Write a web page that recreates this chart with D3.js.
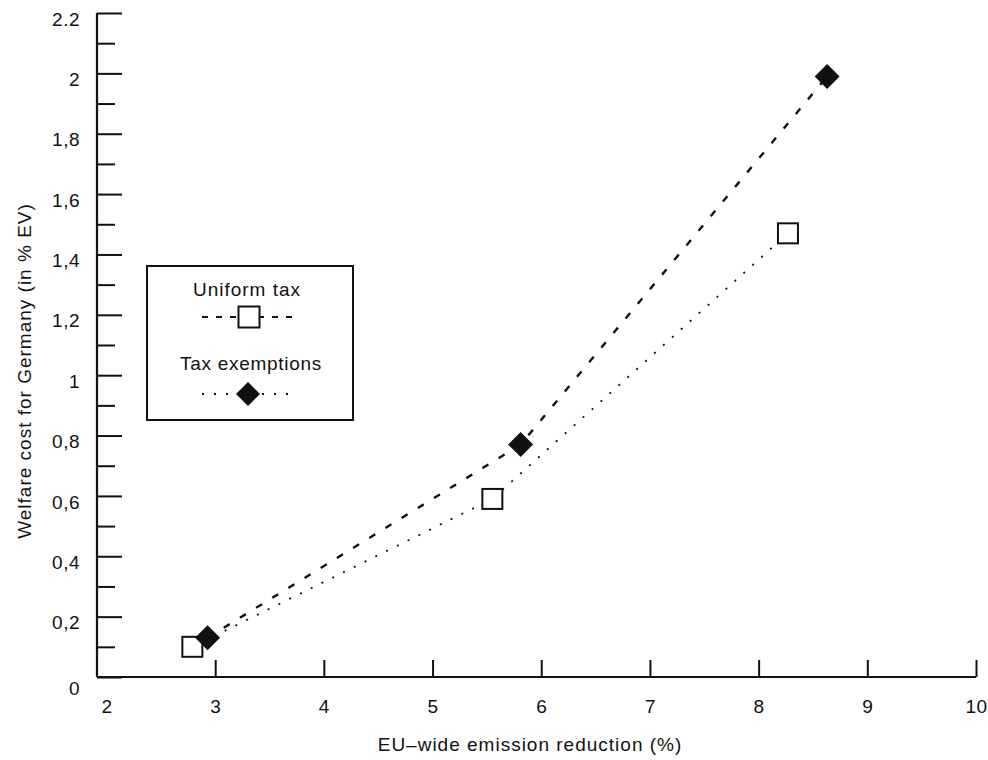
<!DOCTYPE html>
<html>
<head>
<meta charset="utf-8">
<script src="https://cdn.jsdelivr.net/npm/d3@7"></script>
<style>
  html, body { margin: 0; padding: 0; background: #fff; }
  svg { display: block; }
  text { font-family: "Liberation Sans", Arial, Helvetica, sans-serif; fill: #111; }
</style>
</head>
<body>
<svg id="chart" width="988" height="760"></svg>
<script>
// ---- data ----
const seriesNames = ["Uniform tax", "Tax exemptions"];
const uniformX = [2.79, 5.55, 8.27];
const uniformY = [0.10, 0.59, 1.47];
const exemptX = [2.93, 5.81, 8.63];
const exemptY = [0.13, 0.77, 1.99];
const xTickValues = [2, 3, 4, 5, 6, 7, 8, 9, 10];
const yMajorValues = [0, 0.2, 0.4, 0.6, 0.8, 1, 1.2, 1.4, 1.6, 1.8, 2, 2.2];
const yMajorLabels = ["0", "0,2", "0,4", "0,6", "0,8", "1", "1,2", "1,4", "1,6", "1,8", "2", "2.2"];
const yMinorValues = [0.1, 0.3, 0.5, 0.7, 0.9, 1.1, 1.3, 1.5, 1.7, 1.9, 2.1];
const xTitle = "EU\u2013wide emission reduction (%)";
const yTitle = "Welfare cost for Germany (in % EV)";

// ---- layout ----
const svg = d3.select("#chart");
const axisX0 = 97;          // position of the vertical axis line
const x = d3.scaleLinear().domain([2, 10]).range([106.5, 976]);
const y = d3.scaleLinear().domain([0, 2.2]).range([677, 13]);
const ink = "#111";

// X axis
const xAxis = d3.axisBottom(x)
  .tickValues(xTickValues)
  .tickSize(-17)
  .tickPadding(23)
  .tickFormat(d => String(d));
const gx = svg.append("g").attr("transform", `translate(0,${y(0)})`).call(xAxis);
gx.select(".domain").remove();
gx.selectAll(".tick line").attr("stroke", ink).attr("stroke-width", 2)
  .filter(d => d === 2).remove();
gx.selectAll(".tick text").attr("font-size", 19).attr("letter-spacing", 0.5).attr("fill", ink);

// Y axis (major)
const yAxis = d3.axisLeft(y)
  .tickValues(yMajorValues)
  .tickSize(-25)
  .tickPadding(17)
  .tickFormat((d, i) => yMajorLabels[i]);
const gy = svg.append("g").attr("transform", `translate(${axisX0},0)`).call(yAxis);
gy.select(".domain").remove();
gy.selectAll(".tick line").attr("stroke", ink).attr("stroke-width", 2);
gy.selectAll(".tick text").attr("font-size", 19).attr("letter-spacing", 0.5).attr("fill", ink)
  .attr("y", d => d === 0 ? 11 : 6);

// Y axis (minor)
const yMinor = d3.axisLeft(y).tickValues(yMinorValues).tickSize(-18).tickFormat("");
const gym = svg.append("g").attr("transform", `translate(${axisX0},0)`).call(yMinor);
gym.select(".domain").remove();
gym.selectAll(".tick line").attr("stroke", ink).attr("stroke-width", 2);

// axis lines
svg.append("line").attr("x1", axisX0).attr("x2", axisX0)
  .attr("y1", y(2.2)).attr("y2", y(0))
  .attr("stroke", ink).attr("stroke-width", 2.2);
svg.append("line").attr("x1", axisX0).attr("x2", x(10))
  .attr("y1", y(0)).attr("y2", y(0))
  .attr("stroke", ink).attr("stroke-width", 2.2);

// Axis titles
svg.append("text").attr("x", 530).attr("y", 751)
  .attr("text-anchor", "middle").attr("font-size", 19).attr("letter-spacing", 1)
  .text(xTitle);
svg.append("text")
  .attr("transform", `translate(31,371) rotate(-90)`)
  .attr("text-anchor", "middle").attr("font-size", 19).attr("letter-spacing", 1)
  .text(yTitle);

// ---- lines ----
const uniformData = uniformX.map((v, i) => ({ x: v, y: uniformY[i] }));
const exemptData = exemptX.map((v, i) => ({ x: v, y: exemptY[i] }));
const line = d3.line().x(d => x(d.x)).y(d => y(d.y));

// dotted line through squares
svg.append("path").datum(uniformData).attr("d", line)
  .attr("fill", "none").attr("stroke", ink).attr("stroke-width", 1.8)
  .attr("stroke-dasharray", "2,10");
// dashed line through diamonds
svg.append("path").datum(exemptData).attr("d", line)
  .attr("fill", "none").attr("stroke", ink).attr("stroke-width", 2.4)
  .attr("stroke-dasharray", "7,12");

// ---- markers ----
const sq = 20;
svg.selectAll("rect.sq").data(uniformData).enter().append("rect")
  .attr("class", "sq")
  .attr("x", d => x(d.x) - sq / 2).attr("y", d => y(d.y) - sq / 2)
  .attr("width", sq).attr("height", sq)
  .attr("fill", "#fff").attr("stroke", ink).attr("stroke-width", 2);

const dia = 12.5;
const diamondPath = `M0,${-dia}L${dia},0L0,${dia}L${-dia},0Z`;
svg.selectAll("path.dia").data(exemptData).enter().append("path")
  .attr("class", "dia")
  .attr("transform", d => `translate(${x(d.x)},${y(d.y)})`)
  .attr("d", diamondPath).attr("fill", ink);

// ---- legend ----
const lg = svg.append("g");
lg.append("rect").attr("x", 147).attr("y", 266).attr("width", 206).attr("height", 154)
  .attr("fill", "#fff").attr("stroke", ink).attr("stroke-width", 2);
lg.append("text").attr("x", 247).attr("y", 296).attr("text-anchor", "middle")
  .attr("font-size", 19).attr("letter-spacing", 1).text(seriesNames[0]);
lg.append("line").attr("x1", 202).attr("x2", 298).attr("y1", 317).attr("y2", 317)
  .attr("stroke", ink).attr("stroke-width", 2).attr("stroke-dasharray", "6,8");
lg.append("rect").attr("x", 249 - 10.5).attr("y", 317 - 10.5).attr("width", 21).attr("height", 21)
  .attr("fill", "#fff").attr("stroke", ink).attr("stroke-width", 2);
lg.append("text").attr("x", 251).attr("y", 370).attr("text-anchor", "middle")
  .attr("font-size", 19).attr("letter-spacing", 0.7).text(seriesNames[1]);
lg.append("line").attr("x1", 202).attr("x2", 290).attr("y1", 394).attr("y2", 394)
  .attr("stroke", ink).attr("stroke-width", 1.8).attr("stroke-dasharray", "2,10");
lg.append("path").attr("transform", "translate(248,394)")
  .attr("d", `M0,-12L12,0L0,12L-12,0Z`).attr("fill", ink);
</script>
</body>
</html>
